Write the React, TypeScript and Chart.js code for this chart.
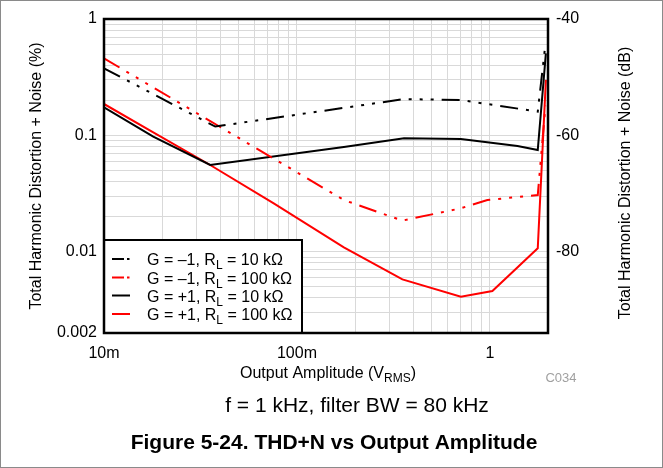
import React, { useEffect, useRef } from 'react';
import { Chart, registerables } from 'chart.js';

Chart.register(...registerables);

const FONT = '"Liberation Sans", Arial, sans-serif';

// ---- Axis ticks ----
const xTickValues = [0.01, 0.1, 1];
const xTickLabels = ['10m', '100m', '1'];
const yTickValues = [0.002, 0.01, 0.1, 1];
const yTickLabels = ['0.002', '0.01', '0.1', '1'];
const dbTickValues = [-40, -60, -80];
const dbTickLabels = ['-40', '-60', '-80'];
const xMin = 0.01;
const xMax = 2;
const yMin = 0.002;
const yMax = 1;

// ---- Series (Output amplitude Vrms, THD+N %) ----
const gm1r10kX = [0.01, 0.0377, 0.359, 0.707, 1.77, 1.94];
const gm1r10kY = [0.377, 0.119, 0.205, 0.201, 0.16, 0.61];

const gm1r100kX = [0.01, 0.175, 0.352, 0.707, 0.97, 1.77, 1.94];
const gm1r100kY = [0.459, 0.0278, 0.0185, 0.0236, 0.0278, 0.0307, 0.18];

const gp1r10kX = [0.01, 0.018, 0.0355, 0.175, 0.359, 0.707, 1.39, 1.77, 1.95];
const gp1r10kY = [0.174, 0.0973, 0.0556, 0.0795, 0.0942, 0.0929, 0.081, 0.0748, 0.507];

const gp1r100kX = [0.01, 0.018, 0.0355, 0.0758, 0.175, 0.352, 0.707, 1.03, 1.77, 1.95];
const gp1r100kY = [0.186, 0.106, 0.0556, 0.026, 0.0109, 0.00578, 0.0041, 0.00459, 0.0107, 0.3];

const seriesLabels = ['G = –1, R_L = 10 kΩ', 'G = –1, R_L = 100 kΩ', 'G = +1, R_L = 10 kΩ', 'G = +1, R_L = 100 kΩ'];
const seriesColors = ['#000000', '#ff0000', '#000000', '#ff0000'];
const seriesDashed = [true, true, false, false];

const yAxisTitle = 'Total Harmonic Distortion + Noise (%)';
const y2AxisTitle = 'Total Harmonic Distortion + Noise (dB)';
const xAxisTitle = [{ t: 'Output Amplitude (V' }, { t: 'RMS', sub: true }, { t: ')' }];
const codeLabel = 'C034';
const conditionText = 'f = 1 kHz, filter BW = 80 kHz';
const figureTitle = 'Figure 5-24. THD+N vs Output Amplitude';

const DASH = [18, 8, 3, 8, 3, 8, 3, 8];

function gridValues(min: number, max: number): number[] {
  const out: number[] = [];
  for (let e = -4; e <= 2; e++) {
    for (let m = 1; m <= 9; m++) {
      const v = parseFloat((m * Math.pow(10, e)).toPrecision(6));
      if (v >= min * 0.999 && v <= max * 1.001) out.push(v);
    }
  }
  return out;
}

function labelFor(values: number[], labels: string[], v: number): string {
  for (let i = 0; i < values.length; i++) {
    if (Math.abs(values[i] - v) <= Math.abs(values[i]) * 1e-6) return labels[i];
  }
  return '';
}

type Part = { t: string; sub?: boolean };

function drawRich(ctx: CanvasRenderingContext2D, parts: Part[], x: number, y: number, size: number, align: 'left' | 'center', color = '#000') {
  const subSize = Math.round(size * 0.78);
  const widths = parts.map((p) => {
    ctx.font = `${p.sub ? subSize : size}px ${FONT}`;
    return ctx.measureText(p.t).width;
  });
  const total = widths.reduce((a, b) => a + b, 0);
  let cx = align === 'center' ? x - total / 2 : x;
  ctx.fillStyle = color;
  ctx.textAlign = 'left';
  ctx.textBaseline = 'alphabetic';
  parts.forEach((p, i) => {
    ctx.font = `${p.sub ? subSize : size}px ${FONT}`;
    ctx.fillText(p.t, cx, y + (p.sub ? size * 0.28 : 0));
    cx += widths[i];
  });
}

function splitLabel(s: string): Part[] {
  const i = s.indexOf('_L');
  if (i < 0) return [{ t: s }];
  return [{ t: s.slice(0, i) }, { t: 'L', sub: true }, { t: s.slice(i + 2) }];
}

const decorPlugin = {
  id: 'decor',
  beforeDraw(chart: any) {
    const ctx = chart.ctx as CanvasRenderingContext2D;
    ctx.save();
    ctx.fillStyle = '#ffffff';
    ctx.fillRect(0, 0, chart.width, chart.height);
    ctx.restore();
  },
  afterDatasetsDraw(chart: any) {
    const ctx = chart.ctx as CanvasRenderingContext2D;
    const a = chart.chartArea;
    ctx.save();
    // legend box
    const lx = a.left;
    const ly = 240;
    const lw = 198;
    const lh = a.bottom - ly;
    ctx.fillStyle = '#ffffff';
    ctx.fillRect(lx, ly, lw, lh);
    ctx.strokeStyle = '#000';
    ctx.lineWidth = 2;
    ctx.strokeRect(lx, ly, lw, lh);
    const rows = [259, 277.5, 295.5, 314];
    seriesLabels.forEach((lab, i) => {
      const ry = rows[i];
      ctx.strokeStyle = seriesColors[i];
      ctx.lineWidth = 2;
      ctx.setLineDash(seriesDashed[i] ? [12, 3, 2.5, 3] : []);
      ctx.beginPath();
      ctx.moveTo(112, ry);
      ctx.lineTo(130, ry);
      ctx.stroke();
      ctx.setLineDash([]);
      drawRich(ctx, splitLabel(lab), 147, ry + 6, 16, 'left');
    });
    // plot frame
    ctx.strokeStyle = '#000';
    ctx.lineWidth = 2.5;
    ctx.strokeRect(a.left, a.top, a.right - a.left, a.bottom - a.top);
    ctx.restore();
  },
  afterDraw(chart: any) {
    const ctx = chart.ctx as CanvasRenderingContext2D;
    const a = chart.chartArea;
    ctx.save();
    ctx.fillStyle = '#000';
    ctx.font = `16px ${FONT}`;
    ctx.textAlign = 'center';
    ctx.textBaseline = 'middle';
    // left title
    ctx.save();
    ctx.translate(37, (a.top + a.bottom) / 2);
    ctx.rotate(-Math.PI / 2);
    ctx.fillText(yAxisTitle, 0, 0);
    ctx.restore();
    // right title
    ctx.save();
    ctx.translate(626, 183);
    ctx.rotate(-Math.PI / 2);
    ctx.fillText(y2AxisTitle, 0, 0);
    ctx.restore();
    // x title
    drawRich(ctx, xAxisTitle, 328, 378, 16, 'center');
    // code label
    ctx.font = `13px ${FONT}`;
    ctx.fillStyle = '#a0a0a0';
    ctx.textAlign = 'center';
    ctx.textBaseline = 'alphabetic';
    ctx.fillText(codeLabel, 561, 382);
    // condition line
    ctx.fillStyle = '#000';
    ctx.font = `21px ${FONT}`;
    ctx.fillText(conditionText, 357, 412);
    // figure title
    ctx.font = `bold 21px ${FONT}`;
    ctx.fillText(figureTitle, 334, 449);
    // outer border
    ctx.strokeStyle = '#8a8a8a';
    ctx.lineWidth = 1;
    ctx.strokeRect(0.5, 0.5, chart.width - 1, chart.height - 1);
    ctx.restore();
  },
};

export default function App() {
  const ref = useRef<HTMLCanvasElement | null>(null);
  useEffect(() => {
    if (!ref.current) return;
    const xs = [gm1r10kX, gm1r100kX, gp1r10kX, gp1r100kX];
    const ys = [gm1r10kY, gm1r100kY, gp1r10kY, gp1r100kY];
    const datasets = seriesLabels.map((lab, i) => ({
      label: lab,
      data: xs[i].map((x, j) => ({ x, y: ys[i][j] })),
      borderColor: seriesColors[i],
      backgroundColor: seriesColors[i],
      borderWidth: 2,
      borderDash: seriesDashed[i] ? DASH : [],
      pointRadius: 0,
      tension: 0,
      fill: false,
      yAxisID: 'y',
    }));
    const xGrid = gridValues(xMin, xMax);
    const yGrid = gridValues(yMin, yMax);
    const chart = new Chart(ref.current, {
      type: 'line',
      data: { datasets },
      plugins: [decorPlugin],
      options: {
        animation: false,
        responsive: false,
        devicePixelRatio: 1,
        layout: { padding: { top: 19, left: 0, right: 0, bottom: 0 } },
        plugins: { legend: { display: false }, tooltip: { enabled: false } },
        scales: {
          x: {
            type: 'logarithmic',
            min: xMin,
            max: xMax,
            afterBuildTicks: (s: any) => {
              s.ticks = xGrid.map((v) => ({ value: v }));
            },
            afterFit: (s: any) => {
              s.height = 135;
            },
            grid: { color: '#d9d9d9', lineWidth: 1, drawTicks: false },
            border: { display: false },
            ticks: {
              autoSkip: false,
              maxRotation: 0,
              padding: 11,
              color: '#000',
              font: { family: FONT, size: 16 },
              callback: (v: any) => labelFor(xTickValues, xTickLabels, Number(v)),
            },
          },
          y: {
            type: 'logarithmic',
            position: 'left',
            min: yMin,
            max: yMax,
            afterBuildTicks: (s: any) => {
              s.ticks = yGrid.map((v) => ({ value: v }));
            },
            afterFit: (s: any) => {
              s.width = 104;
            },
            grid: { color: '#d9d9d9', lineWidth: 1, drawTicks: false },
            border: { display: false },
            ticks: {
              autoSkip: false,
              padding: 7,
              color: '#000',
              font: { family: FONT, size: 16 },
              callback: (v: any) => labelFor(yTickValues, yTickLabels, Number(v)),
            },
          },
          y2: {
            type: 'linear',
            position: 'right',
            min: 20 * Math.log10(yMin / 100),
            max: 20 * Math.log10(yMax / 100),
            afterBuildTicks: (s: any) => {
              s.ticks = dbTickValues.map((v) => ({ value: v }));
            },
            afterFit: (s: any) => {
              s.width = 115;
            },
            grid: { display: false, drawTicks: false },
            border: { display: false },
            ticks: {
              autoSkip: false,
              padding: 8,
              color: '#000',
              font: { family: FONT, size: 16 },
              callback: (v: any) => labelFor(dbTickValues, dbTickLabels, Number(v)),
            },
          },
        },
      } as any,
    });
    return () => chart.destroy();
  }, []);
  return (
    <div style={{ position: 'fixed', left: 0, top: 0, width: 663, height: 468, background: '#fff' }}>
      <canvas ref={ref} width={663} height={468} style={{ display: 'block', width: 663, height: 468 }} />
    </div>
  );
}
